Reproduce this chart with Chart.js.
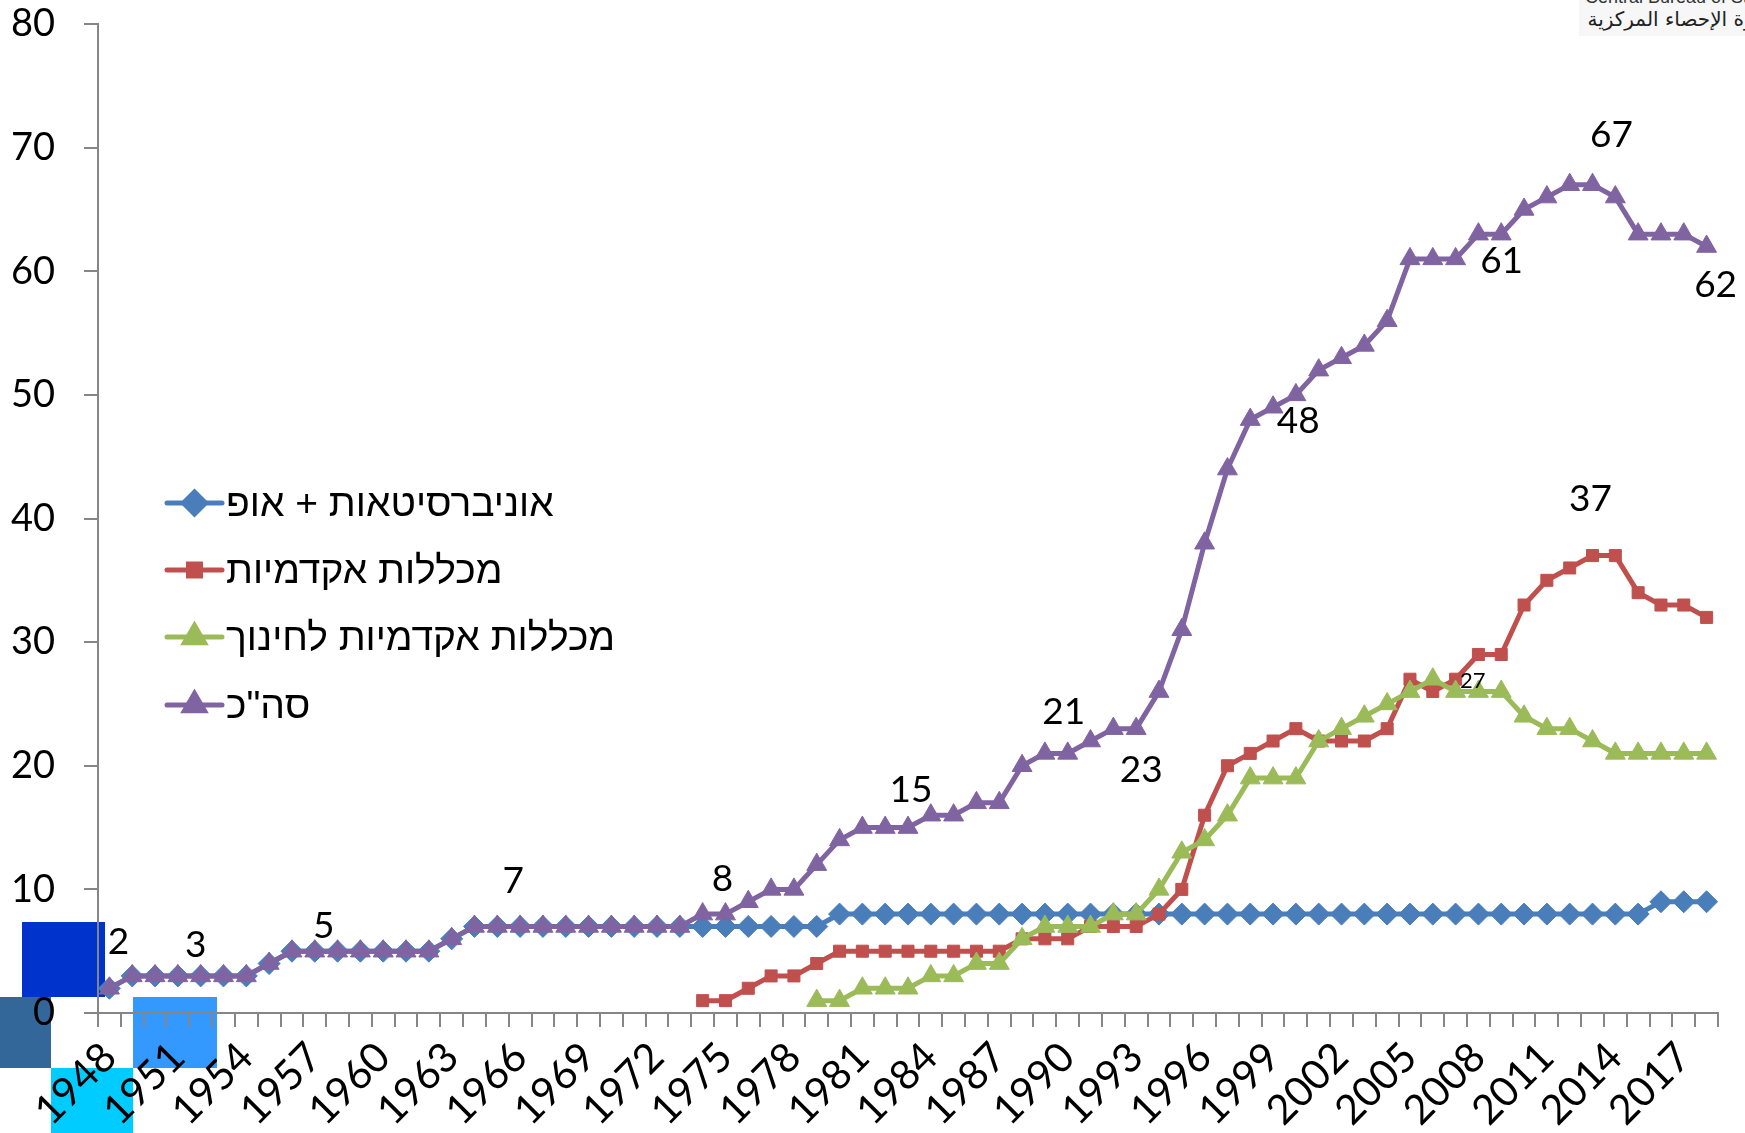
<!DOCTYPE html>
<html>
<head>
<meta charset="utf-8">
<script src="https://cdn.jsdelivr.net/npm/chart.js@4.4.1/dist/chart.umd.min.js"></script>
<style>
    body { margin: 0; background: #fff; }
    #wrap { position: relative; width: 1745px; height: 1133px; overflow: hidden; }
    .blk { position: absolute; }
    #chart { position: absolute; left: 0; top: 0; z-index: 1; }
    #logo { position: absolute; right: 0; top: 0; width: 166px; height: 36px; background: #f7f7f7; overflow: hidden; z-index: 2; }
    #logo .en { position: absolute; left: 6px; top: -13px; font: 18px "Liberation Sans", sans-serif; color: #333; white-space: nowrap; }
    #logo .ar { position: absolute; right: -30px; top: 7px; font: 20px "DejaVu Sans", sans-serif; color: #222; white-space: nowrap; direction: rtl; }
</style>
</head>
<body>
<div id="wrap">
    <div class="blk" style="left:22px;top:922px;width:83px;height:75px;background:#0033cc"></div>
    <div class="blk" style="left:0;top:997px;width:51px;height:71px;background:#336699"></div>
    <div class="blk" style="left:133px;top:997px;width:84px;height:71px;background:#3399ff"></div>
    <div class="blk" style="left:51px;top:1068px;width:82px;height:65px;background:#00ccff"></div>
    <div id="logo"><div class="en">Central Bureau of Statistics</div><div class="ar">دائرة الإحصاء المركزية</div></div>
    <canvas id="chart" width="1745" height="1133"></canvas>
</div>
<script>
const years = [1948, 1949, 1950, 1951, 1952, 1953, 1954, 1955, 1956, 1957,
    1958, 1959, 1960, 1961, 1962, 1963, 1964, 1965, 1966, 1967,
    1968, 1969, 1970, 1971, 1972, 1973, 1974, 1975, 1976, 1977,
    1978, 1979, 1980, 1981, 1982, 1983, 1984, 1985, 1986, 1987,
    1988, 1989, 1990, 1991, 1992, 1993, 1994, 1995, 1996, 1997,
    1998, 1999, 2000, 2001, 2002, 2003, 2004, 2005, 2006, 2007,
    2008, 2009, 2010, 2011, 2012, 2013, 2014, 2015, 2016, 2017, 2018];

// only every third year gets a label on the x axis
const shownYears = [1948, 1951, 1954, 1957, 1960, 1963, 1966, 1969, 1972, 1975, 1978,
    1981, 1984, 1987, 1990, 1993, 1996, 1999, 2002, 2005, 2008, 2011, 2014, 2017];

const yTicks = [0, 10, 20, 30, 40, 50, 60, 70, 80];

const seriesNames = ['אוניברסיטאות + אופ', 'מכללות אקדמיות', 'מכללות אקדמיות לחינוך', 'סה"כ'];

const universities = [2, 3, 3, 3, 3, 3, 3, 4, 5, 5,
    5, 5, 5, 5, 5, 6, 7, 7, 7, 7,
    7, 7, 7, 7, 7, 7, 7, 7, 7, 7,
    7, 7, 8, 8, 8, 8, 8, 8, 8, 8,
    8, 8, 8, 8, 8, 8, 8, 8, 8, 8,
    8, 8, 8, 8, 8, 8, 8, 8, 8, 8,
    8, 8, 8, 8, 8, 8, 8, 8, 9, 9, 9];

const academicColleges = [null, null, null, null, null, null, null, null, null, null,
    null, null, null, null, null, null, null, null, null, null,
    null, null, null, null, null, null, 1, 1, 2, 3,
    3, 4, 5, 5, 5, 5, 5, 5, 5, 5,
    6, 6, 6, 7, 7, 7, 8, 10, 16, 20,
    21, 22, 23, 22, 22, 22, 23, 27, 26, 27,
    29, 29, 33, 35, 36, 37, 37, 34, 33, 33, 32];

const educationColleges = [null, null, null, null, null, null, null, null, null, null,
    null, null, null, null, null, null, null, null, null, null,
    null, null, null, null, null, null, null, null, null, null,
    null, 1, 1, 2, 2, 2, 3, 3, 4, 4,
    6, 7, 7, 7, 8, 8, 10, 13, 14, 16,
    19, 19, 19, 22, 23, 24, 25, 26, 27, 26,
    26, 26, 24, 23, 23, 22, 21, 21, 21, 21, 21];

const total = [2, 3, 3, 3, 3, 3, 3, 4, 5, 5,
    5, 5, 5, 5, 5, 6, 7, 7, 7, 7,
    7, 7, 7, 7, 7, 7, 8, 8, 9, 10,
    10, 12, 14, 15, 15, 15, 16, 16, 17, 17,
    20, 21, 21, 22, 23, 23, 26, 31, 38, 44,
    48, 49, 50, 52, 53, 54, 56, 61, 61, 61,
    63, 63, 65, 66, 67, 67, 66, 63, 63, 63, 62];

// which points carry a value label: [dataset index, year]
const labelledPoints = [[3, 1948], [3, 1952], [3, 1957], [3, 1966], [3, 1975], [3, 1983],
    [3, 1990], [3, 1993], [3, 1998], [3, 2007], [3, 2013], [3, 2018], [1, 2013], [2, 2006]];
// where each label sits relative to its point (pixels) and its font size
const labelPlacement = [[9, -46, 37], [-5, -31, 37], [9, -25, 37], [-7, -45, 37], [-3, -35, 37], [3, -38, 37],
    [-4, -41, 37], [5, 41, 37], [48, 1, 37], [46, 2, 37], [19, -50, 37], [9, 39, 37], [-2, -57, 37], [40, 2, 22]];

const numFont = 'Lato, "Open Sans", sans-serif';

const valueLabelPlugin = {
    id: 'valueLabels',
    afterDatasetsDraw(chart) {
        const ctx = chart.ctx;
        ctx.save();
        ctx.fillStyle = '#000';
        ctx.textAlign = 'center';
        ctx.textBaseline = 'middle';
        labelledPoints.forEach(function (p, i) {
            const idx = years.indexOf(p[1]);
            const pt = chart.getDatasetMeta(p[0]).data[idx];
            const val = chart.data.datasets[p[0]].data[idx];
            const place = labelPlacement[i];
            ctx.font = place[2] + 'px ' + numFont;
            ctx.fillText(String(val), pt.x + place[0], pt.y + place[1]);
        });
        ctx.restore();
    }
};

// Excel style legend sitting inside the plot
const legendPlugin = {
    id: 'insideLegend',
    afterDraw(chart) {
        const ctx = chart.ctx;
        const rows = [503, 570, 637, 705];
        ctx.save();
        chart.data.datasets.forEach(function (ds, i) {
            const y = rows[i];
            ctx.strokeStyle = ds.borderColor;
            ctx.lineWidth = 5;
            ctx.lineCap = 'round';
            ctx.beginPath();
            ctx.moveTo(167, y);
            ctx.lineTo(222, y);
            ctx.stroke();
            ctx.fillStyle = ds.borderColor;
            ctx.strokeStyle = ds.borderColor;
            Chart.helpers.drawPoint(ctx, { pointStyle: ds.pointStyle, radius: ds.pointRadius, borderWidth: 1, rotation: 0 }, 194.5, y);
            ctx.fillStyle = '#000';
            ctx.font = '39px "Liberation Sans", "DejaVu Sans", sans-serif';
            ctx.direction = 'rtl';
            ctx.textAlign = 'left';
            ctx.textBaseline = 'middle';
            ctx.fillText(ds.label, 226, y + 2);
        });
        ctx.restore();
    }
};

function series(label, data, color, style, radius, order) {
    return {
        label: label,
        data: data,
        borderColor: color,
        backgroundColor: color,
        pointBackgroundColor: color,
        pointBorderColor: color,
        borderWidth: 5,
        pointStyle: style,
        pointRadius: radius,
        pointHoverRadius: radius,
        pointBorderWidth: 1,
        tension: 0,
        spanGaps: false,
        order: order
    };
}

const axisColor = '#868686';

new Chart(document.getElementById('chart'), {
    type: 'line',
    data: {
        labels: years,
        datasets: [
            series(seriesNames[0], universities, '#4a7ebb', 'rectRot', 11, 3),
            series(seriesNames[1], academicColleges, '#c0504d', 'rect', 8.5, 2),
            series(seriesNames[2], educationColleges, '#9bbb59', 'triangle', 11.5, 1),
            series(seriesNames[3], total, '#8064a2', 'triangle', 11.5, 0)
        ]
    },
    options: {
        responsive: false,
        animation: false,
        devicePixelRatio: 1,
        layout: { padding: { left: 0, right: 27, top: 24, bottom: 0 } },
        plugins: {
            legend: { display: false },
            tooltip: { enabled: false }
        },
        scales: {
            x: {
                type: 'category',
                offset: true,
                border: { color: axisColor, width: 2 },
                grid: { offset: true, drawOnChartArea: false, drawTicks: true, tickLength: 14, color: axisColor, lineWidth: 2 },
                ticks: {
                    autoSkip: false,
                    minRotation: 45,
                    maxRotation: 45,
                    padding: 6,
                    color: '#000',
                    font: { family: numFont, size: 41 },
                    callback: function (value) {
                        const y = years[value];
                        return shownYears.includes(y) ? String(y) : '';
                    }
                },
                afterFit: function (scale) {
                    scale.height = 120;
                    scale.paddingLeft = 0;
                    scale.paddingRight = 0;
                }
            },
            y: {
                min: yTicks[0],
                max: yTicks[yTicks.length - 1],
                border: { color: axisColor, width: 2 },
                grid: { drawOnChartArea: false, drawTicks: true, tickLength: 14, color: axisColor, lineWidth: 2 },
                ticks: {
                    stepSize: yTicks[1] - yTicks[0],
                    padding: 29,
                    color: '#000',
                    font: { family: numFont, size: 38 }
                },
                afterFit: function (scale) {
                    scale.width = 98;
                    scale.paddingTop = 0;
                    scale.paddingBottom = 0;
                }
            }
        }
    },
    plugins: [valueLabelPlugin, legendPlugin]
});
</script>
</body>
</html>
